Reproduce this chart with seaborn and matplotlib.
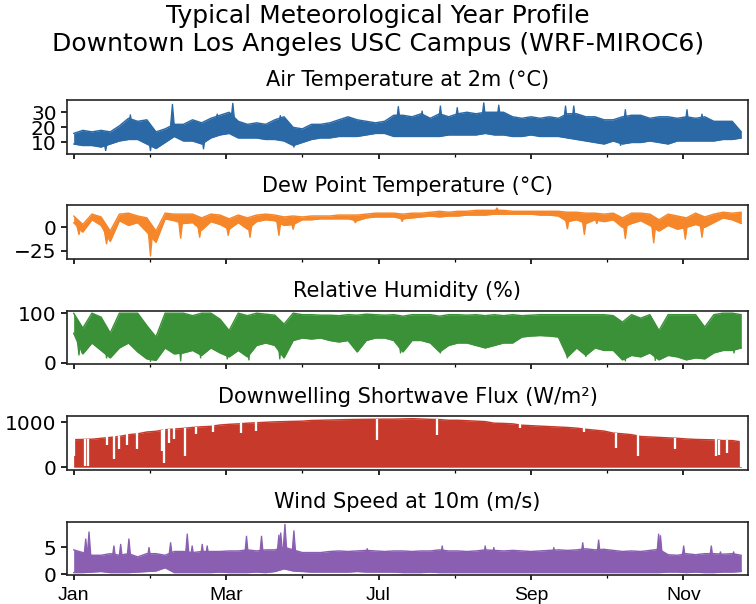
import numpy as np
import pandas as pd
import matplotlib
matplotlib.use("Agg")
import matplotlib.pyplot as plt
import seaborn as sns

# ---------------- data ----------------
# sampling grid: day of year, every 5 days
days = np.arange(0, 366, 5)

# Air temperature at 2 m (degC): upper / lower envelope of the hourly trace
temp_hi = [16, 18, 17, 18, 17, 21, 26, 24, 25, 17,
           19, 22, 22, 25, 23, 26, 28, 30, 24, 22,
           23, 22, 25, 27, 20, 19, 22, 22, 23, 25,
           27, 25, 24, 23, 24, 28, 28, 27, 29, 26,
           29, 27, 29, 30, 29, 30, 30, 30, 27, 26,
           27, 26, 27, 26, 29, 29, 27, 27, 25, 25,
           27, 28, 28, 26, 27, 27, 26, 27, 26, 27,
           24, 24, 24, 17]
temp_lo = [9, 8, 8, 7, 9, 11, 12, 12, 9, 6,
           10, 14, 11, 11, 9, 13, 15, 16, 13, 13,
           13, 12, 12, 11, 8, 10, 12, 13, 13, 14,
           14, 14, 15, 16, 16, 14, 14, 14, 14, 14,
           14, 15, 15, 15, 15, 16, 15, 15, 14, 14,
           15, 14, 14, 14, 13, 12, 11, 10, 9, 11,
           9, 10, 10, 11, 10, 9, 11, 11, 11, 11,
           11, 12, 12, 13]
temp_spike_day = [31, 54, 78.5, 87, 113, 177.5, 190.5, 200.5, 209.7, 224.2,
                  232.4, 268.9, 273.4, 301.6, 335.3, 343.5,
                  17.5, 42, 71, 120.4, 299]
temp_spike_val = [28.5, 35.5, 29, 36.2, 28, 34, 31, 34.4, 33.3, 36.5,
                  35, 34.4, 34.4, 32, 32, 29,
                  4.4, 4.3, 5.5, 6.7, 7.8]

# Dew point temperature (degC)
dew_hi = [12, 3, 14, 11, -4, 14, 15, 12, 10, -4,
          15, 14, 14, 14, 10, 14, 13, 9, 13, 10,
          13, 14, 13, 11, 12, 11, 12, 12, 12, 13,
          13, 13, 14, 15, 15, 15, 14, 15, 15, 16,
          17, 16, 17, 17, 18, 18, 18, 18, 17, 17,
          17, 17, 17, 17, 16, 16, 15, 15, 14, 15,
          10, 15, 15, 14, 8, 14, 12, 10, 15, 11,
          14, 16, 15, 16]
dew_lo = [5, -5, 8, 2, -15, 7, 2, 5, -5, -16,
          9, 7, 4, 5, -3, 6, 3, -2, 5, -2,
          6, 8, 7, 2, 3, 8, 8, 9, 9, 9,
          9, 7, 10, 11, 11, 11, 9, 10, 11, 12,
          11, 12, 12, 13, 13, 13, 14, 14, 14, 14,
          14, 13, 13, 12, 6, 8, 4, 8, 6, 8,
          0, 4, 7, 2, -4, 2, -2, 0, 3, 0,
          5, 10, 8, 4]
dew_spike_day = [2.9, 4.7, 18, 42, 58.5, 68.9, 84.5, 96.4, 112.2, 120,
                 154, 179.6, 231.4, 269.9, 279.2, 286, 301.6, 317.1, 334.4, 343.5]
dew_spike_val = [-8, -5, -18, -31, -12, -11, -9, -11, -9, -2.5,
                 4.6, 6, 20.7, -2, -8, 3.6, -12.5, -17, -13, -11]

# Relative humidity (%)
rh_hi = [100, 70, 100, 92, 60, 100, 100, 100, 75, 52,
         100, 100, 100, 95, 100, 100, 88, 65, 100, 95,
         100, 98, 96, 78, 100, 97, 97, 96, 96, 95,
         97, 96, 98, 97, 96, 97, 94, 97, 97, 97,
         94, 97, 97, 96, 97, 95, 97, 95, 97, 95,
         96, 97, 97, 97, 97, 97, 97, 97, 97, 95,
         82, 97, 90, 97, 65, 97, 97, 97, 97, 72,
         97, 100, 100, 97]
rh_lo = [60, 18, 40, 25, 10, 30, 40, 22, 8, 5,
         30, 18, 20, 25, 15, 30, 20, 12, 25, 12,
         35, 40, 35, 10, 45, 50, 48, 50, 45, 42,
         45, 22, 45, 50, 50, 45, 22, 45, 45, 40,
         22, 35, 40, 40, 35, 30, 35, 40, 40, 52,
         54, 55, 54, 52, 12, 30, 15, 30, 25, 25,
         6, 15, 12, 20, 6, 15, 12, 6, 10, 8,
         20, 25, 25, 30]
rh_spike_day = [2.9, 4.7, 18, 42, 58.5, 69.4, 84, 95.8, 112.7, 178.7,
                200.5, 269.9, 280, 301.6, 318, 334.4, 344.4, 361]
rh_spike_val = [15, 19, 9, 2, 3, 9, 7, 5, 7, 19,
                19, 9, 12, 3, 4, 7, 9, 19]

# Downwelling shortwave flux (W/m2): daily peak envelope (nights are 0)
sw_peak = [610, 615, 620, 640, 660, 680, 720, 740, 780, 795,
           830, 845, 860, 880, 895, 905, 935, 950, 960, 975,
           985, 995, 1005, 1010, 1015, 1020, 1035, 1040, 1045, 1050,
           1055, 1058, 1060, 1062, 1065, 1065, 1070, 1075, 1068, 1060,
           1055, 1040, 1040, 1030, 1020, 1010, 975, 970, 960, 930,
           920, 910, 900, 890, 880, 865, 840, 820, 800, 755,
           740, 720, 680, 670, 660, 650, 640, 625, 615, 610,
           605, 590, 590, 560]
sw_cloudy_day = [0.3, 6.0, 7.8, 18.4, 22.0, 24.8, 29.3, 34.8, 48.5, 49.4,
                 52.0, 55.0, 60.8, 67.0, 76.0, 91.5, 99.5, 165.6, 198.7, 244.0,
                 279.0, 296.7, 308.6, 329.0, 351.0, 353.0, 357.0, 365.0]
sw_cloudy_val = [250, 30, 30, 500, 180, 400, 500, 400, 360, 100,
                 545, 615, 250, 730, 780, 760, 800, 600, 720, 870,
                 790, 430, 250, 400, 250, 280, 320, 0]

# Wind speed at 10 m (m/s)
wind_hi = [4.5, 4.0, 3.5, 3.5, 3.8, 3.5, 3.8, 3.2, 3.8, 3.8,
           3.5, 4.2, 4.2, 4.0, 4.2, 4.2, 4.2, 4.3, 4.3, 4.5,
           4.3, 4.5, 4.5, 5.0, 4.5, 4.0, 4.0, 4.0, 4.2, 4.3,
           4.2, 4.3, 4.4, 4.3, 4.2, 4.3, 4.3, 4.2, 4.3, 4.3,
           4.5, 4.3, 4.3, 4.2, 4.3, 4.5, 4.4, 4.3, 4.4, 4.3,
           4.2, 4.3, 4.4, 4.5, 4.4, 4.5, 4.7, 4.5, 4.6, 4.4,
           4.2, 4.3, 4.2, 4.4, 4.6, 3.6, 3.5, 3.8, 3.6, 3.8,
           3.8, 3.7, 3.8, 3.5]
wind_lo = [0.3, 0.3, 0.4, 0.5, 0.3, 0.3, 0.3, 0.4, 0.5, 0.6,
           1.2, 0.3, 0.3, 0.3, 0.3, 0.3, 0.4, 0.3, 0.3, 0.3,
           0.4, 0.3, 0.5, 1.0, 0.6, 0.5, 0.4, 0.4, 0.4, 0.4,
           0.4, 0.5, 0.4, 0.4, 0.4, 0.4, 0.3, 0.3, 0.3, 0.4,
           0.3, 0.3, 0.3, 0.3, 0.3, 0.3, 0.3, 0.3, 0.3, 0.3,
           0.3, 0.3, 0.3, 0.3, 0.3, 0.3, 0.3, 0.3, 0.3, 0.3,
           0.3, 0.3, 0.3, 0.3, 0.3, 0.4, 0.4, 0.3, 0.4, 0.3,
           0.3, 0.4, 0.4, 0.5]
wind_spike_day = [6.6, 8.4, 22, 25.7, 30.2, 41.2, 53, 62.1, 64.8, 70.3,
                  73, 94.5, 102.7, 112.2, 113.2, 115.5, 120.4, 160.5, 201.5, 225,
                  229.7, 262.5, 278.3, 287, 319.8, 320.8, 333.5, 348.6, 353.6, 360.8]
wind_spike_val = [6.6, 7.9, 5.3, 5.6, 6.6, 5.0, 5.9, 7.5, 5.3, 5.6,
                  5.3, 7.1, 7.1, 7.3, 7.7, 9.3, 8.1, 4.8, 5.3, 5.3,
                  5.0, 5.0, 5.9, 6.4, 7.5, 7.2, 5.3, 5.3, 4.2, 4.2]

titles = ["Air Temperature at 2m (°C)", "Dew Point Temperature (°C)",
          "Relative Humidity (%)", "Downwelling Shortwave Flux (W/m²)",
          "Wind Speed at 10m (m/s)"]
yticks = [[10, 20, 30], [-25, 0], [0, 100], [0, 1000], [0, 5]]
month_tick_hours = [0, 2000, 4000, 6000, 8000]
month_labels = ["Jan", "Mar", "Jul", "Sep", "Nov"]
minor_tick_hours = [1000, 3000, 5000, 7000]

colors = ["#2b69a6", "#f5862a", "#3b9137", "#c6392b", "#8a5fb1"]

# ---------------- plotting ----------------
sns.set_style("ticks")
plt.rcParams["font.family"] = ["DejaVu Sans"]
for key in ["text.color", "axes.labelcolor", "xtick.color", "ytick.color"]:
    plt.rcParams[key] = "black"
plt.rcParams["axes.edgecolor"] = "#222222"
plt.rcParams["axes.linewidth"] = 0.8

fig, axes = plt.subplots(5, 1, figsize=(5.04, 6.04 / 1.5), dpi=150, sharex=True)
fig.subplots_adjust(left=0.0886, right=0.9894, top=0.8344, bottom=0.048, hspace=0.97)

hours = days * 24
span = hours[-1]
spike_half_width = 1.3  # days


def band(ax, hi, lo, color, sd, sv):
    hi = np.asarray(hi, float)
    lo = np.asarray(lo, float)
    df = pd.DataFrame({"hour": hours, "hi": hi, "lo": lo})
    ax.fill_between(df["hour"], df["lo"], df["hi"], color=color, lw=0)
    sns.lineplot(data=df, x="hour", y="hi", ax=ax, color=color, lw=0.7)
    sns.lineplot(data=df, x="hour", y="lo", ax=ax, color=color, lw=0.7)
    sd = np.asarray(sd, float)
    base = np.interp(sd, days, (hi + lo) / 2)
    for d, b, v in zip(sd, base, sv):
        ax.fill([(d - spike_half_width) * 24, d * 24, (d + spike_half_width) * 24],
                [b, v, b], color=color, lw=0.6)


band(axes[0], temp_hi, temp_lo, colors[0], temp_spike_day, temp_spike_val)
band(axes[1], dew_hi, dew_lo, colors[1], dew_spike_day, dew_spike_val)
band(axes[2], rh_hi, rh_lo, colors[2], rh_spike_day, rh_spike_val)

# shortwave: filled from 0 (night) to daily peak, cloudy days as gaps
ax = axes[3]
sw_df = pd.DataFrame({"hour": hours, "peak": sw_peak})
ax.fill_between(sw_df["hour"], 0, sw_df["peak"], color=colors[3], lw=0)
sns.lineplot(data=sw_df, x="hour", y="peak", ax=ax, color=colors[3], lw=0.7)
cd = np.asarray(sw_cloudy_day, float)
ax.vlines(cd * 24, sw_cloudy_val, np.interp(cd, days, sw_peak) + 15,
          color="white", lw=1.1, zorder=2.2)

band(axes[4], wind_hi, wind_lo, colors[4], wind_spike_day, wind_spike_val)

for ax, t, yt in zip(axes, titles, yticks):
    ax.set_title(t, fontsize=10, pad=6.5)
    ax.set_xlabel("")
    ax.set_ylabel("")
    ax.set_yticks(yt)
    ax.tick_params(axis="y", labelsize=9.7, length=3, pad=2)
    ax.tick_params(axis="x", which="major", length=2.6, pad=3)
    ax.tick_params(axis="x", which="minor", length=1.5)
    for s in ax.spines.values():
        s.set_visible(True)

axes[-1].set_xlim(-0.01 * span, 1.01 * span)
axes[-1].set_xticks(month_tick_hours)
axes[-1].set_xticks(minor_tick_hours, minor=True)
axes[-1].set_xticklabels(month_labels, fontsize=9.3, family=["Liberation Sans", "DejaVu Sans"])

fig.suptitle("Typical Meteorological Year Profile\nDowntown Los Angeles USC Campus (WRF-MIROC6)",
             fontsize=12, y=0.993, va="top", linespacing=1.2)

fig.savefig("out.png", dpi=150, facecolor="white")
